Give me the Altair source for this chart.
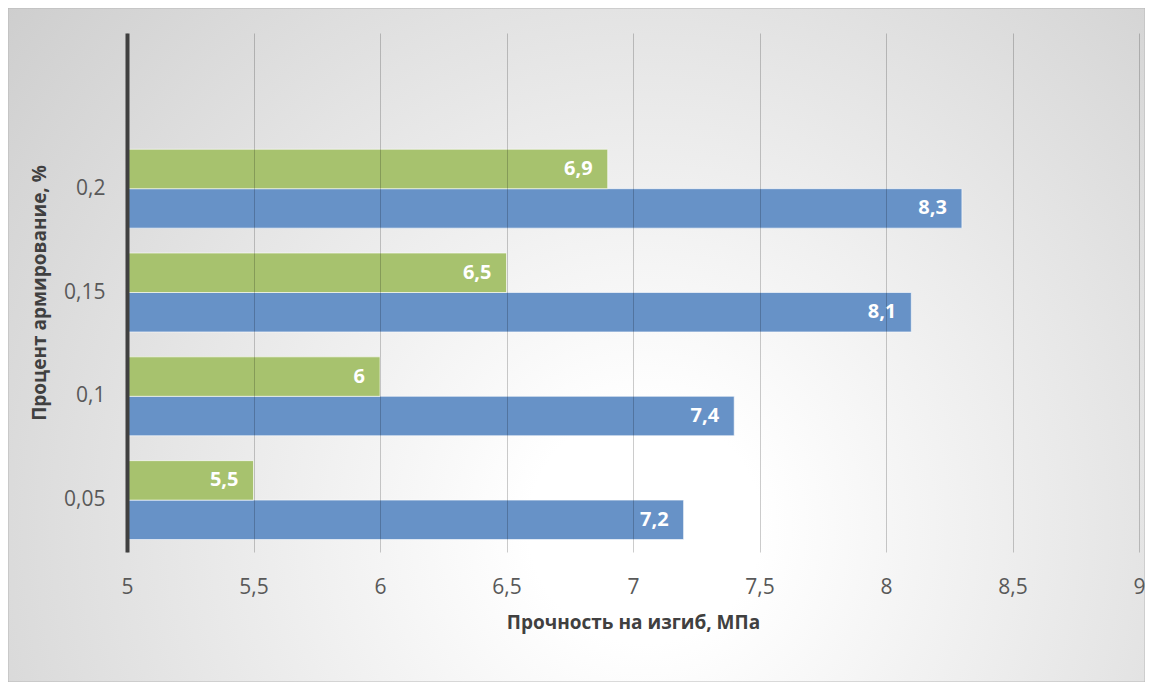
import altair as alt
import pandas as pd

categories = ["0,05", "0,1", "0,15", "0,2"]
series_blue = [7.2, 7.4, 8.1, 8.3]
series_green = [5.5, 6.0, 6.5, 6.9]
series_names = ["Ряд 2", "Ряд 1"]  # green (top), blue (bottom)
y_domain = [" ", "0,2", "0,15", "0,1", "0,05"]
x_ticks = [5, 5.5, 6, 6.5, 7, 7.5, 8, 8.5, 9]

rows = []
for c, b, g in zip(categories, series_blue, series_green):
    rows.append({"cat": c, "series": series_names[1], "value": b})
    rows.append({"cat": c, "series": series_names[0], "value": g})
df = pd.DataFrame(rows)
df["label"] = df["value"].map(lambda v: (f"{v:g}").replace(".", ","))

W, H = 1012, 519
PAD = {"left": 119, "top": 25, "right": 6, "bottom": 130}
FONT = "Open Sans"

bg = alt.Chart(pd.DataFrame({"a": [0]})).mark_rect(
    fill=alt.RadialGradient(
        gradient="radial",
        x1=0.56, y1=0.66, r1=0,
        x2=0.56, y2=0.66, r2=0.85,
        stops=[
            alt.GradientStop(color="#ffffff", offset=0),
            alt.GradientStop(color="#ffffff", offset=0.12),
            alt.GradientStop(color="#c4c4c4", offset=1),
        ],
    ),
    stroke="#b8b8b8",
    strokeWidth=1,
).encode(
    x=alt.value(-PAD["left"]),
    x2=alt.value(W + PAD["right"]),
    y=alt.value(-PAD["top"]),
    y2=alt.value(H + PAD["bottom"]),
)

x_enc = alt.X(
    "value:Q",
    scale=alt.Scale(domain=[5, 9], nice=False, zero=False),
    axis=alt.Axis(
        values=x_ticks,
        title="Прочность на изгиб, МПа",
        labelExpr="replace(format(datum.value, '~g'), '.', ',')",
        labelFlush=False,
        grid=True,
        gridColor="#000000",
        gridOpacity=0.2,
        gridWidth=1,
        domain=False,
        ticks=False,
        labelFont=FONT,
        labelFontSize=21,
        labelColor="#595959",
        labelPadding=24,
        titleFont=FONT,
        titleFontSize=19,
        titleFontWeight="bold",
        titleColor="#404040",
        titlePadding=16,
        zindex=1,
    ),
)
y_enc = alt.Y(
    "cat:N",
    scale=alt.Scale(domain=y_domain, paddingInner=0.24, paddingOuter=0.12),
    axis=alt.Axis(
        title="Процент армирование, %",
        domain=True,
        domainColor="#404040",
        domainWidth=4,
        ticks=False,
        grid=False,
        labelFont=FONT,
        labelFontSize=21,
        labelColor="#595959",
        labelPadding=22,
        titleFont=FONT,
        titleFontSize=19,
        titleFontWeight="bold",
        titleColor="#404040",
        titlePadding=14,
        zindex=1,
    ),
)
yoff = alt.YOffset("series:N", scale=alt.Scale(domain=series_names, paddingInner=0))
color = alt.Color(
    "series:N",
    scale=alt.Scale(domain=series_names, range=["#a7c26e", "#6792c7"]),
    legend=None,
)

bars = alt.Chart(df).mark_bar(
    stroke="#ffffff", strokeOpacity=0.6, strokeWidth=1
).encode(
    x=x_enc,
    x2=alt.datum(5),
    y=y_enc,
    yOffset=yoff,
    color=color,
)

labels = alt.Chart(df).mark_text(
    align="right", baseline="middle", dx=-15, color="#ffffff",
    font=FONT, fontSize=20, fontWeight="bold",
).encode(
    x="value:Q",
    y=alt.Y("cat:N"),
    yOffset=alt.YOffset("series:N"),
    text="label:N",
)

chart = alt.layer(bg, bars, labels).properties(
    width=W, height=H, padding=PAD, autosize=alt.AutoSizeParams(type="none")
).configure_view(stroke=None).configure(background="#ffffff")

chart.save("out.html", embed_options={"renderer": "svg", "actions": False})
